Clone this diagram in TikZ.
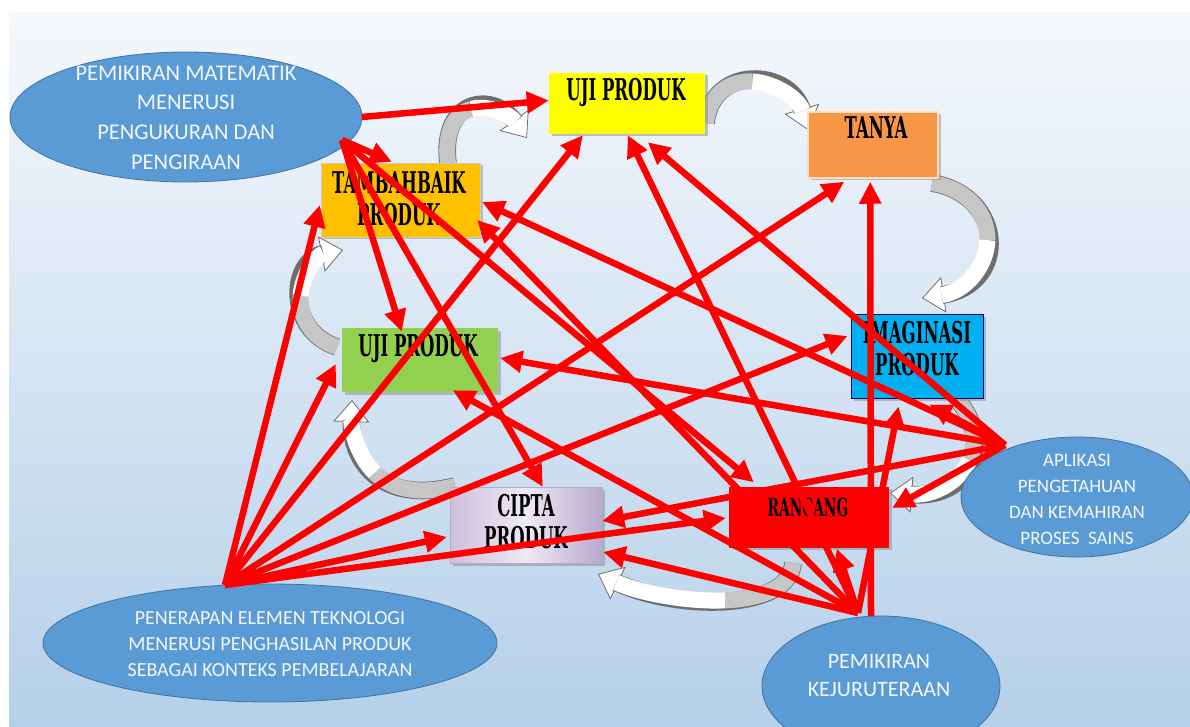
\documentclass[tikz,border=0pt]{standalone}
\usepackage{fontspec}
\setmainfont{Carlito}
\newfontfamily\bxfont{DejaVu Serif}
\usetikzlibrary{arrows.meta,calc,shapes.geometric,shadows}
\definecolor{ellfill}{HTML}{5B9BD5}
\definecolor{elldraw}{HTML}{41719C}
\definecolor{bgtop}{HTML}{F5F8FC}
\definecolor{bgbot}{HTML}{B5D0EA}
\definecolor{yel}{HTML}{FFFF00}
\definecolor{org}{HTML}{F79646}
\definecolor{gold}{HTML}{FFC000}
\definecolor{grn}{HTML}{92D050}
\definecolor{cyanbox}{HTML}{00B0F0}
\definecolor{lavA}{HTML}{CDBFDD}
\definecolor{lavB}{HTML}{EEEAF4}
\definecolor{lavC}{HTML}{B8A8CD}
\definecolor{caline}{HTML}{6E6E6E}
\definecolor{cagray}{HTML}{C6C6C6}
\definecolor{txtw}{HTML}{F2F6FA}
\newcommand\bxt[1]{\scalebox{0.55}[1]{#1}}
% curved block arrow: start, control 1, control 2, end (tip)
\newcommand\cArrow[4]{%
  \coordinate (cq1) at ($#1!0.5!#2$);
  \coordinate (chh) at ($#2!0.5!#3$);
  \coordinate (cr2) at ($#3!0.5!#4$);
  \coordinate (cq2) at ($(cq1)!0.5!(chh)$);
  \coordinate (cr1) at ($(chh)!0.5!(cr2)$);
  \coordinate (cmm) at ($(cq2)!0.5!(cr1)$);
  \draw[line width=0.1pt, draw=cagray, -{Triangle[width=36pt,length=22pt,fill=white,color=caline,line width=0.8pt]}] #1 .. controls #2 and #3 .. #4;
  \draw[line width=17.6pt, draw=caline, shorten >=20pt] #1 .. controls #2 and #3 .. #4;
  \draw[line width=16pt, draw=cagray] #1 .. controls (cq1) and (cq2) .. (cmm);
  \draw[line width=16pt, draw=white, shorten >=20pt] (cmm) .. controls (cr1) and (cr2) .. #4;
}
\tikzset{
  ell/.style={ellipse, fill=ellfill, draw=elldraw, line width=0.8pt, inner sep=0pt},
  etext/.style={text=txtw, align=center, inner sep=0pt},
  bx/.style={rectangle, inner sep=0pt, drop shadow={shadow xshift=2.5pt, shadow yshift=-2.5pt, opacity=0.45}},
  btext/.style={font=\bxfont\bfseries\fontsize{30}{32}\selectfont, align=center, inner sep=0pt, text=black},
  rar/.style={draw=red, line width=6.5pt, -{Triangle[width=21pt,length=22pt]}}
}
\begin{document}
\begin{tikzpicture}[x=1pt,y=-1pt]
\clip (0,0) rectangle (1190,727);
\fill[white] (0,0) rectangle (1190,727);
\fill[top color=bgtop, bottom color=bgbot] (9,13) rectangle (1190,727);

% curved process arrows
\cArrow{(448,163)}{(440,100)}{(492,90)}{(527,138)}
\cArrow{(706,123)}{(712,65)}{(790,68)}{(808,130)}
\cArrow{(932,183)}{(1005,195)}{(1010,285)}{(922,298)}
\cArrow{(955,398)}{(990,430)}{(980,500)}{(890,493)}
\cArrow{(793,563)}{(790,610)}{(680,612)}{(598,574)}
\cArrow{(455,486)}{(380,505)}{(350,460)}{(352,400)}
\cArrow{(337,347)}{(285,330)}{(290,260)}{(343,250)}

% ellipses
\node[ell, minimum width=352pt, minimum height=130pt] (pm) at (186,117) {};
\node[etext, font=\fontsize{22.5}{29.7}\selectfont] (pmT) at (186,117.5) {PEMIKIRAN MATEMATIK\\MENERUSI\\PENGUKURAN DAN\\PENGIRAAN};
\node[ell, minimum width=454pt, minimum height=118pt] (pen) at (270,643) {};
\node[etext, font=\fontsize{20}{26}\selectfont] (penT) at (270,644) {PENERAPAN ELEMEN TEKNOLOGI\\MENERUSI PENGHASILAN PRODUK\\SEBAGAI KONTEKS PEMBELAJARAN};
\node[ell, minimum width=232pt, minimum height=120pt] (apl) at (1077,497) {};
\node[etext, font=\fontsize{19}{26}\selectfont] (aplT) at (1077,499) {APLIKASI\\PENGETAHUAN\\DAN KEMAHIRAN\\PROSES~~SAINS};
\node[ell, minimum width=238pt, minimum height=140pt] (kej) at (881,686) {};
\node[etext, font=\fontsize{22}{28}\selectfont] (kejT) at (879,676) {PEMIKIRAN\\KEJURUTERAAN};

% boxes
\node[bx, fill=yel, minimum width=156pt, minimum height=61pt] (uji1) at (627,103.5) {};
\node[btext] (uji1T) at (626,92) {\bxt{UJI PRODUK}};
\node[bx, fill=org, draw=orange!25, line width=1.5pt, minimum width=130pt, minimum height=66pt] (tanya) at (873,145) {};
\node[btext] (tanyaT) at (876,128) {\bxt{TANYA}};
\node[bx, fill=gold, draw=black!20, minimum width=159pt, minimum height=74pt] (tamb) at (400.5,200) {};
\node[btext] (tambT) at (399,199) {\bxt{TAMBAHBAIK}\\\bxt{PRODUK}};
\node[bx, fill=grn, minimum width=156pt, minimum height=64pt] (uji2) at (420,360) {};
\node[btext] (uji2T) at (418,348) {\bxt{UJI PRODUK}};
\node[bx, fill=cyanbox, draw=blue!40!black, line width=1pt, minimum width=132pt, minimum height=84pt] (imag) at (917,356) {};
\node[btext] (imagT) at (917,349) {\bxt{IMAGINASI}\\\bxt{PRODUK}};
\node[bx, left color=lavA, right color=lavC, middle color=lavB, draw=lavC, minimum width=152pt, minimum height=76pt] (cipta) at (526,525) {};
\node[btext] (ciptaT) at (526,522) {\bxt{CIPTA}\\\bxt{PRODUK}};
\node[bx, fill=red, minimum width=160pt, minimum height=61pt] (ran) at (809,517) {};
\node[btext, font=\bxfont\bfseries\fontsize{25}{28}\selectfont] (ranT) at (808,507) {\bxt{RANCANG}};

% arrow origins
\coordinate (pmA) at (362,117);
\coordinate (pmB) at (342,140);
\coordinate (penO) at (225,585);
\coordinate (aplO) at (1005,445);
\coordinate (kejO) at (858,613);
\coordinate (kejV) at (871,616);

% PM
\draw[rar] (pmA) -- ($(uji1.west)+(0,-3)$);
\draw[rar] (pmB) -- ($(tamb.north west)+(71,-1)$);
\draw[rar] (pmB) -- ($(uji2.north west)+(60,4)$);
\draw[rar] (pmB) -- ($(cipta.north west)+(93,0)$);
\draw[rar] (pmB) -- ($(ran.north west)+(25,-4)$);
% PEN
\draw[rar] (penO) -- ($(tamb.west)+(-1,5)$);
\draw[rar] (penO) -- ($(uji2.west)+(-6,4)$);
\draw[rar] (penO) -- ($(uji1.south west)+(34,1)$);
\draw[rar] (penO) -- ($(tanya.south west)+(37,3)$);
\draw[rar] (penO) -- ($(imag.west)+(-3,-20)$);
\draw[rar] (penO) -- ($(ran.west)+(-3,1)$);
\draw[rar] (penO) -- ($(cipta.west)+(-3,12)$);
% APL
\draw[rar] (aplO) -- ($(uji1.south west)+(99,8)$);
\draw[rar] (aplO) -- ($(tamb.east)+(2,2)$);
\draw[rar] (aplO) -- ($(uji2.east)+(2,-2)$);
\draw[rar] (aplO) -- ($(imag.south west)+(79,6)$);
\draw[rar] (aplO) -- ($(ran.east)+(3,-9)$);
\draw[rar] (aplO) -- ($(cipta.east)+(0,-4)$);
% KEJ
\draw[rar] (kejO) -- ($(uji1.south west)+(79,1)$);
\draw[rar] (kejV) -- ($(tanya.south west)+(63,3)$);
\draw[rar] (kejO) -- ($(imag.south west)+(48,8)$);
\draw[rar] (kejO) -- ($(ran.south west)+(108,1)$);
\draw[rar] (kejO) -- ($(cipta.east)+(1,27)$);
\draw[rar] (kejO) -- ($(uji2.south west)+(111,-2)$);
\draw[rar] (kejO) -- ($(tamb.east)+(-3,20)$);
\end{tikzpicture}
\end{document}
